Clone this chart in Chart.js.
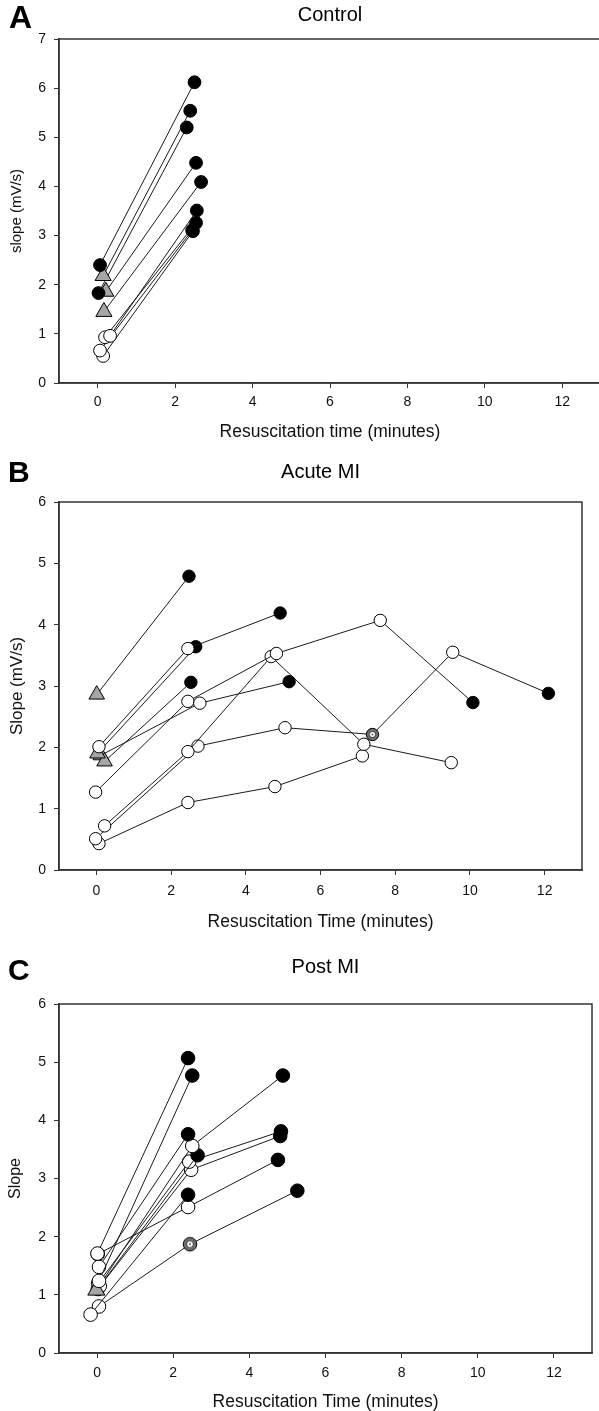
<!DOCTYPE html>
<html>
<head>
<meta charset="utf-8">
<title>Slope vs resuscitation time</title>
<script src="https://cdn.jsdelivr.net/npm/chart.js@4.4.1/dist/chart.umd.min.js"></script>
<style>
  html, body { margin: 0; padding: 0; background: #ffffff; overflow: hidden; width: 599px; height: 1411px; }
  .panel { position: absolute; left: 0; }
  canvas { display: block; }
</style>
</head>
<body>
<div class="panel" style="top:0px"><canvas id="panelA"></canvas></div>
<div class="panel" style="top:450px"><canvas id="panelB"></canvas></div>
<div class="panel" style="top:940px"><canvas id="panelC"></canvas></div>
<script>
// ---- tick values ----
const xTickValues = [0, 2, 4, 6, 8, 10, 12];
const controlYTicks = [0, 1, 2, 3, 4, 5, 6, 7];
const infarctYTicks = [0, 1, 2, 3, 4, 5, 6];

// ---- Control: one row per animal; time (minutes) and slope (mV/s) at each measurement ----
// marker group per measurement: F filled circle, O open circle, T triangle, R ringed circle
const controlTime = [
  [0.06, 2.50], [0.14, 2.39], [0.02, 2.30], [0.21, 2.54], [0.16, 2.67],
  [0.32, 2.56], [0.19, 2.54], [0.06, 2.44], [0.14, 2.46]
];
const controlSlope = [
  [2.40, 6.12], [2.18, 5.54], [1.83, 5.20], [1.86, 4.48], [1.45, 4.09],
  [0.96, 3.51], [0.93, 3.26], [0.66, 3.11], [0.55, 3.09]
];
const controlGroup = [
  ['F', 'F'], ['T', 'F'], ['F', 'F'], ['T', 'F'], ['T', 'F'],
  ['O', 'F'], ['O', 'F'], ['O', 'F'], ['O', 'F']
];

// ---- Acute MI ----
const acuteTime = [
  [0.01, 2.48],
  [0.07, 2.45, 4.92],
  [0.03, 2.66],
  [0.22, 2.53],
  [0.12, 2.77, 5.16],
  [-0.02, 2.45, 4.82, 7.60, 10.08],
  [0.22, 2.45, 4.68, 7.16, 9.50],
  [-0.02, 2.72, 5.05, 7.39, 9.54, 12.10],
  [0.07, 2.45, 4.78, 7.12]
];
const acuteSlope = [
  [2.86, 4.79],
  [2.01, 3.61, 4.19],
  [1.90, 3.64],
  [1.77, 3.06],
  [1.87, 2.72, 3.07],
  [1.27, 2.75, 3.53, 4.07, 2.73],
  [0.72, 1.93, 3.48, 2.05, 1.75],
  [0.51, 2.02, 2.32, 2.21, 3.55, 2.88],
  [0.43, 1.10, 1.36, 1.86]
];
const acuteGroup = [
  ['T', 'F'],
  ['O', 'O', 'F'],
  ['T', 'F'],
  ['T', 'F'],
  ['T', 'O', 'F'],
  ['O', 'O', 'O', 'O', 'F'],
  ['O', 'O', 'O', 'O', 'O'],
  ['O', 'O', 'O', 'R', 'O', 'F'],
  ['O', 'O', 'O', 'O']
];

// ---- Post MI ----
const postTime = [
  [0.01, 2.39],
  [0.05, 2.50],
  [0.05, 2.39],
  [-0.02, 2.50, 4.88],
  [0.07, 2.64],
  [0.03, 2.42, 4.83],
  [0.02, 2.47, 4.81],
  [-0.17, 2.39],
  [0.02, 2.39, 4.75],
  [0.05, 2.44, 5.26]
];
const postSlope = [
  [1.71, 5.07],
  [1.24, 4.77],
  [1.48, 3.76],
  [1.08, 3.56, 4.77],
  [1.15, 3.40],
  [1.20, 3.29, 3.81],
  [1.10, 3.15, 3.73],
  [0.66, 2.72],
  [1.70, 2.51, 3.32],
  [0.80, 1.87, 2.79]
];
const postGroup = [
  ['O', 'F'], ['O', 'F'], ['O', 'F'], ['T', 'O', 'F'], ['O', 'F'],
  ['O', 'O', 'F'], ['O', 'O', 'F'], ['O', 'F'], ['O', 'O', 'F'], ['O', 'R', 'F']
];

// ---- drawing ----
const FONT = '"Liberation Sans", Arial, Helvetica, sans-serif';
Chart.defaults.font.family = FONT;
Chart.defaults.color = '#111';

// ringed circle marker: dark ring with a light centre
function makeRingMarker(r) {
  const size = Math.ceil(r * 2 + 4);
  const c = document.createElement('canvas');
  c.width = size; c.height = size;
  const g = c.getContext('2d');
  const m = size / 2;
  g.beginPath(); g.arc(m, m, r, 0, Math.PI * 2);
  g.fillStyle = '#6e6e6e'; g.fill();
  g.lineWidth = 1; g.strokeStyle = '#000'; g.stroke();
  g.beginPath(); g.arc(m, m, r * 0.5, 0, Math.PI * 2);
  g.fillStyle = '#ffffff'; g.fill();
  g.lineWidth = 0.8; g.strokeStyle = '#222'; g.stroke();
  g.beginPath(); g.arc(m, m, r * 0.15, 0, Math.PI * 2);
  g.fillStyle = '#555'; g.fill();
  return c;
}

const panelDecor = {
  id: 'panelDecor',
  beforeDatasetsDraw(chart, args, opts) {
    const { ctx, chartArea: a } = chart;
    ctx.save();
    ctx.strokeStyle = '#333';
    ctx.lineWidth = 1.5;
    ctx.strokeRect(a.left, a.top, a.right - a.left, a.bottom - a.top);
    ctx.restore();
  },
  afterDraw(chart, args, opts) {
    const { ctx, chartArea: a } = chart;
    ctx.save();
    ctx.fillStyle = '#000';
    ctx.textBaseline = 'middle';
    ctx.textAlign = 'left';
    ctx.font = 'bold ' + opts.letterSize + 'px ' + FONT;
    ctx.fillText(opts.letter, opts.letterX, opts.letterY);
    ctx.textAlign = 'center';
    ctx.font = opts.titleSize + 'px ' + FONT;
    ctx.fillText(opts.title, (a.left + a.right) / 2, opts.titleY);
    ctx.restore();
  }
};

function buildPanel(p) {
  const canvas = document.getElementById(p.id);
  const holder = canvas.parentNode;
  holder.style.width = p.width + 'px';
  holder.style.height = p.height + 'px';
  canvas.width = p.width; canvas.height = p.height;
  canvas.style.width = p.width + 'px'; canvas.style.height = p.height + 'px';
  const ring = makeRingMarker(p.r);
  const fill = { F: '#000000', O: '#ffffff', T: '#a6a6a6', R: '#6e6e6e' };

  const datasets = p.time.map((row, i) => ({
    data: row.map((t, j) => ({ x: t, y: p.slope[i][j] })),
    showLine: true,
    borderColor: '#1a1a1a',
    borderWidth: 1,
    pointStyle: p.group[i].map(k => k === 'T' ? 'triangle' : (k === 'R' ? ring : 'circle')),
    pointRadius: p.group[i].map(k => k === 'T' ? p.r * 1.45 : p.r),
    pointBackgroundColor: p.group[i].map(k => fill[k]),
    pointBorderColor: '#000',
    pointBorderWidth: 1
  }));

  const axisGrid = { display: true, drawOnChartArea: false, drawTicks: true, tickLength: 5, color: '#333', lineWidth: 1 };
  const axisBorder = { display: true, color: '#333', width: 1.5 };

  return new Chart(canvas, {
    type: 'scatter',
    data: { datasets },
    options: {
      responsive: false,
      maintainAspectRatio: false,
      animation: false,
      events: [],
      layout: { autoPadding: false, padding: { left: 0, top: p.area.top, right: p.width - p.area.right, bottom: 0 } },
      plugins: {
        legend: { display: false },
        tooltip: { enabled: false },
        title: { display: false },
        panelDecor: {
          letter: p.letter, letterX: p.letterX, letterY: p.letterY, letterSize: p.letterSize,
          title: p.title, titleY: p.titleY, titleSize: 20
        }
      },
      scales: {
        x: {
          type: 'linear', min: -1, max: 13,
          afterBuildTicks: s => { s.ticks = xTickValues.map(v => ({ value: v })); },
          afterFit: s => { s.height = p.height - p.area.bottom; s.paddingLeft = 0; s.paddingRight = 0; },
          ticks: { font: { size: 14 }, padding: p.xTickPad, color: '#111', callback: v => String(v) },
          grid: axisGrid,
          border: axisBorder,
          title: { display: true, text: p.xTitle, font: { size: 17.5 }, color: '#111',
                   padding: { top: 0, bottom: p.xTitlePad } }
        },
        y: {
          type: 'linear', min: 0, max: p.yTicks[p.yTicks.length - 1],
          afterBuildTicks: s => { s.ticks = p.yTicks.map(v => ({ value: v })); },
          afterFit: s => { s.width = p.area.left; s.paddingTop = 0; s.paddingBottom = 0; },
          ticks: { font: { size: 14 }, padding: 8, color: '#111', callback: v => String(v) },
          grid: axisGrid,
          border: axisBorder,
          title: { display: true, text: p.yTitle, font: { size: p.yTitleSize }, color: '#111',
                   padding: { top: p.yTitlePad, bottom: 0 } }
        }
      }
    },
    plugins: [panelDecor]
  });
}

buildPanel({
  id: 'panelA', width: 602, height: 450,
  area: { left: 59, top: 39, right: 601, bottom: 383 },
  time: controlTime, slope: controlSlope, group: controlGroup,
  yTicks: controlYTicks, r: 6.4,
  letter: 'A', letterX: 9, letterY: 19, letterSize: 32,
  title: 'Control', titleY: 15.5,
  xTitle: 'Resuscitation time (minutes)', xTickPad: 5.5, xTitlePad: 7.5,
  yTitle: 'slope (mV/s)', yTitleSize: 15, yTitlePad: 8
});

buildPanel({
  id: 'panelB', width: 599, height: 490,
  area: { left: 59, top: 52, right: 582, bottom: 420 },
  time: acuteTime, slope: acuteSlope, group: acuteGroup,
  yTicks: infarctYTicks, r: 6.2,
  letter: 'B', letterX: 8, letterY: 24, letterSize: 30,
  title: 'Acute MI', titleY: 22,
  xTitle: 'Resuscitation Time (minutes)', xTickPad: 7.3, xTitlePad: 7.5,
  yTitle: 'Slope (mV/s)', yTitleSize: 17, yTitlePad: 7.3
});

buildPanel({
  id: 'panelC', width: 599, height: 480,
  area: { left: 59, top: 64, right: 592, bottom: 413 },
  time: postTime, slope: postSlope, group: postGroup,
  yTicks: infarctYTicks, r: 6.8,
  letter: 'C', letterX: 8, letterY: 31.5, letterSize: 30,
  title: 'Post MI', titleY: 27,
  xTitle: 'Resuscitation Time (minutes)', xTickPad: 6.5, xTitlePad: 7.8,
  yTitle: 'Slope', yTitleSize: 16, yTitlePad: 6.4
});
</script>
</body>
</html>
